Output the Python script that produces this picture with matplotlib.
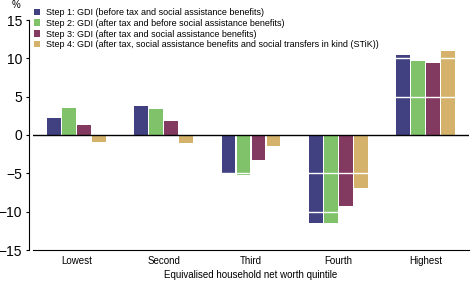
import matplotlib
matplotlib.use("Agg")
import matplotlib.pyplot as plt
import numpy as np

categories = ["Lowest", "Second", "Third", "Fourth", "Highest"]
series_labels = [
    "Step 1: GDI (before tax and social assistance benefits)",
    "Step 2: GDI (after tax and before social assistance benefits)",
    "Step 3: GDI (after tax and social assistance benefits)",
    "Step 4: GDI (after tax, social assistance benefits and social transfers in kind (STiK))",
]
step1 = [2.2, 3.8, -4.9, -11.5, 10.4]
step2 = [3.5, 3.4, -5.2, -11.5, 9.6]
step3 = [1.3, 1.8, -3.2, -9.2, 9.4]
step4 = [-0.9, -1.1, -1.4, -6.9, 10.9]
yticks = [-15, -10, -5, 0, 5, 10, 15]
colors = ["#414182", "#80C269", "#833A60", "#D4B26C"]

plt.rcParams['font.family'] = ['Liberation Sans', 'DejaVu Sans']
plt.rcParams['axes.unicode_minus'] = True

fig = plt.figure(figsize=(4.72, 2.83), dpi=100)
ax = fig.add_axes([33/472, 33/283, 436/472, 230/283])

x = np.arange(len(categories))
slot = 0.172
bw = 0.16
handles = []
for i, (vals, c, lab) in enumerate(zip([step1, step2, step3, step4], colors, series_labels)):
    b = ax.bar(x + (i - 1.5) * slot, vals, width=bw, color=c, label=lab, zorder=2)
    handles.append(b)

ax.set_xlim(-0.5, 4.5)
ax.set_ylim(-15, 15)
ax.set_yticks(yticks)
ax.set_yticklabels([("\u2212" + str(abs(v))) if v < 0 else str(v) for v in yticks], fontsize=6.8)
ax.set_xticks(x)
ax.set_xticklabels(categories, fontsize=7)
ax.tick_params(axis='x', length=0, pad=4)
ax.tick_params(axis='y', length=2.2, width=0.8, pad=2.5)

for v in [-10, -5, 5, 10]:
    ax.axhline(v, color="white", lw=1.0, zorder=3)
ax.axhline(0, color="black", lw=1.0, zorder=4)

for s in ["top", "right"]:
    ax.spines[s].set_visible(False)
ax.spines["left"].set_position(("outward", 3))
ax.spines["left"].set_linewidth(0.8)
ax.spines["bottom"].set_linewidth(0.8)

ax.set_xlabel("Equivalised household net worth quintile", fontsize=7, labelpad=3)
fig.text(12/472, 1 - 5/283, "%", fontsize=7, ha="left", va="center")

leg = ax.legend(handles=handles, loc="upper left", bbox_to_anchor=(34/472, 1 - 8/283),
                bbox_transform=fig.transFigure, frameon=False, fontsize=6.5,
                handlelength=0.7, handleheight=0.7, handletextpad=0.6,
                labelspacing=0.2, borderpad=0, borderaxespad=0)

fig.savefig("out.png", dpi=100)
